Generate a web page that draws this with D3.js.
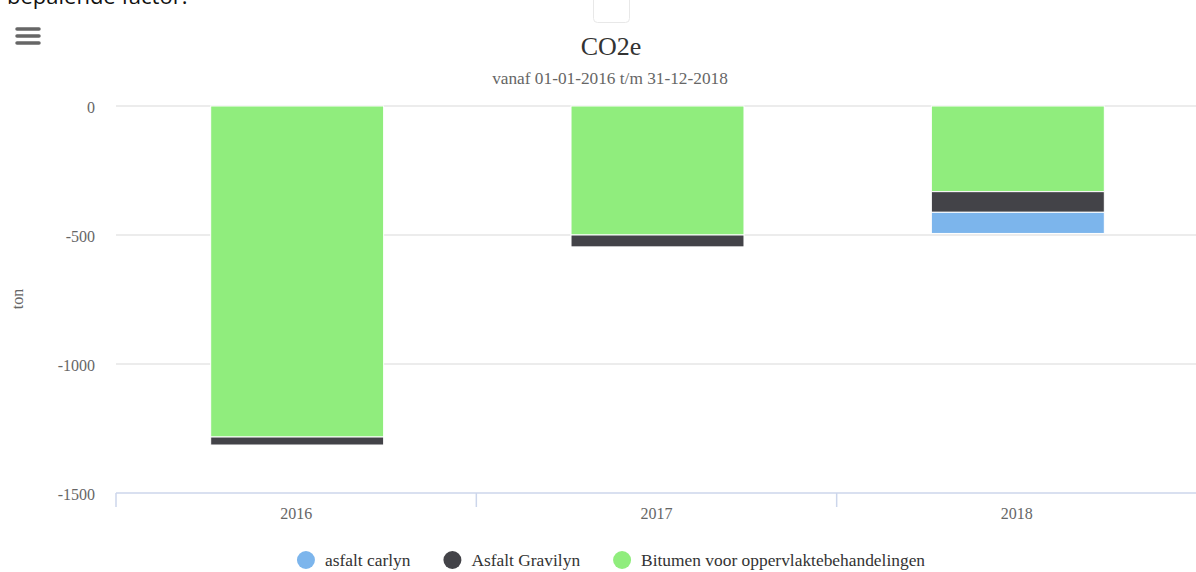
<!DOCTYPE html>
<html>
<head>
<meta charset="utf-8">
<script src="https://cdn.jsdelivr.net/npm/d3@7"></script>
<style>
    body { margin: 0; background: #fff; }
    svg { display: block; }
</style>
</head>
<body>
<div id="chart"></div>
<script>
// data
const years = ['2016', '2017', '2018'];
const seriesNames = ['asfalt carlyn', 'Asfalt Gravilyn', 'Bitumen voor oppervlaktebehandelingen'];
const asfaltCarlyn = [0, 0, -82];
const asfaltGravilyn = [-31, -46, -80];
const bitumen = [-1283, -500, -332];
const yTicks = [0, -500, -1000, -1500];

const colors = {
    'asfalt carlyn': '#7cb5ec',
    'Asfalt Gravilyn': '#434348',
    'Bitumen voor oppervlaktebehandelingen': '#90ed7d'
};

let width = 1196;
let height = 572;
const serif = '"Liberation Serif", "Times New Roman", serif';

let svg = d3.select('#chart').append('svg')
    .attr('width', width)
    .attr('height', height);

// page text above the chart, cut off by the screenshot
svg.append('text')
    .attr('x', 7).attr('y', 4)
    .style('font-family', '"Open Sans", sans-serif')
    .style('font-size', '22px')
    .style('fill', '#111')
    .text('bepalende factor.');

// export menu button
[29, 36, 43].forEach(y => {
    svg.append('line')
        .attr('x1', 17).attr('x2', 39)
        .attr('y1', y).attr('y2', y)
        .style('stroke', '#666')
        .style('stroke-width', 3.5)
        .style('stroke-linecap', 'round');
});

// little box at the top
svg.append('rect')
    .attr('x', 593.5).attr('y', -10)
    .attr('width', 36).attr('height', 32.5)
    .attr('rx', 4)
    .style('fill', '#fff')
    .style('stroke', '#e8e8e8');

const cx = 611;

svg.append('text')
    .attr('x', cx).attr('y', 55)
    .attr('text-anchor', 'middle')
    .style('font-family', serif)
    .style('font-size', '26px')
    .style('fill', '#333')
    .text('CO2e');

svg.append('text')
    .attr('x', cx - 1).attr('y', 84)
    .attr('text-anchor', 'middle')
    .style('font-family', serif)
    .style('font-size', '17.3px')
    .style('fill', '#666')
    .text('vanaf 01-01-2016 t/m 31-12-2018');

// scales
const x = d3.scaleBand().domain(years).range([116, 1197]).paddingInner(0).paddingOuter(0);
const y = d3.scaleLinear().domain([-1500, 0]).range([493, 106]);

// gridlines
svg.append('g')
    .selectAll('line')
    .data(yTicks.filter(d => d !== -1500))
    .enter()
    .append('line')
    .attr('x1', 116).attr('x2', 1197)
    .attr('y1', d => y(d)).attr('y2', d => y(d))
    .style('stroke', '#e6e6e6')
    .style('stroke-width', 1.5);

// y labels
svg.append('g')
    .selectAll('text')
    .data(yTicks)
    .enter()
    .append('text')
    .attr('x', 95)
    .attr('y', d => y(d) + 7)
    .attr('text-anchor', 'end')
    .style('font-family', serif)
    .style('font-size', '16px')
    .style('fill', '#666')
    .text(d => d);

svg.append('text')
    .attr('transform', 'translate(23,299) rotate(-90)')
    .attr('text-anchor', 'middle')
    .style('font-family', serif)
    .style('font-size', '16px')
    .style('fill', '#666')
    .text('ton');

// stacked bars
const rows = years.map((yr, i) => ({
    year: yr,
    'asfalt carlyn': asfaltCarlyn[i],
    'Asfalt Gravilyn': asfaltGravilyn[i],
    'Bitumen voor oppervlaktebehandelingen': bitumen[i]
}));

// first key sits closest to zero
const stack = d3.stack()
    .keys(['Bitumen voor oppervlaktebehandelingen', 'Asfalt Gravilyn', 'asfalt carlyn'])
    .offset(d3.stackOffsetDiverging);

const barW = x.bandwidth() * 0.48;

svg.append('g')
    .selectAll('g')
    .data(stack(rows))
    .enter()
    .append('g')
    .style('fill', d => colors[d.key])
    .selectAll('rect')
    .data(d => d.filter(p => p[1] - p[0] !== 0))
    .enter()
    .append('rect')
    .attr('x', d => x(d.data.year) + x.bandwidth() / 2 - barW / 2 + 1)
    .attr('y', d => y(Math.max(d[0], d[1])))
    .attr('width', barW)
    .attr('height', d => Math.abs(y(d[0]) - y(d[1])))
    .style('stroke', '#fff')
    .style('stroke-width', 1);

// x axis
svg.append('line')
    .attr('x1', 116).attr('x2', 1197)
    .attr('y1', 493).attr('y2', 493)
    .style('stroke', '#ccd6eb')
    .style('stroke-width', 1.5);

svg.append('g')
    .selectAll('line')
    .data(years)
    .enter()
    .append('line')
    .attr('x1', d => x(d)).attr('x2', d => x(d))
    .attr('y1', 493).attr('y2', 507)
    .style('stroke', '#ccd6eb')
    .style('stroke-width', 1.5);

svg.append('g')
    .selectAll('text')
    .data(years)
    .enter()
    .append('text')
    .attr('x', d => x(d) + x.bandwidth() / 2)
    .attr('y', 519)
    .attr('text-anchor', 'middle')
    .style('font-family', serif)
    .style('font-size', '16px')
    .style('fill', '#666')
    .text(d => d);

// legend
let legend = svg.append('g');
let offset = 0;
let items = [];
const gap = 33;
seriesNames.forEach(name => {
    let g = legend.append('g');
    g.append('circle')
        .attr('cx', 9).attr('cy', 0).attr('r', 9)
        .style('fill', colors[name]);
    let t = g.append('text')
        .attr('x', 28).attr('y', 6)
        .style('font-family', serif)
        .style('font-size', '17.4px')
        .style('fill', '#333')
        .text(name);
    let w = 28 + t.node().getComputedTextLength();
    items.push({ g: g, x: offset });
    offset += w + gap;
});
let total = offset - gap;
let start = cx - total / 2;
items.forEach(it => it.g.attr('transform', `translate(${start + it.x},560)`));
</script>
</body>
</html>
